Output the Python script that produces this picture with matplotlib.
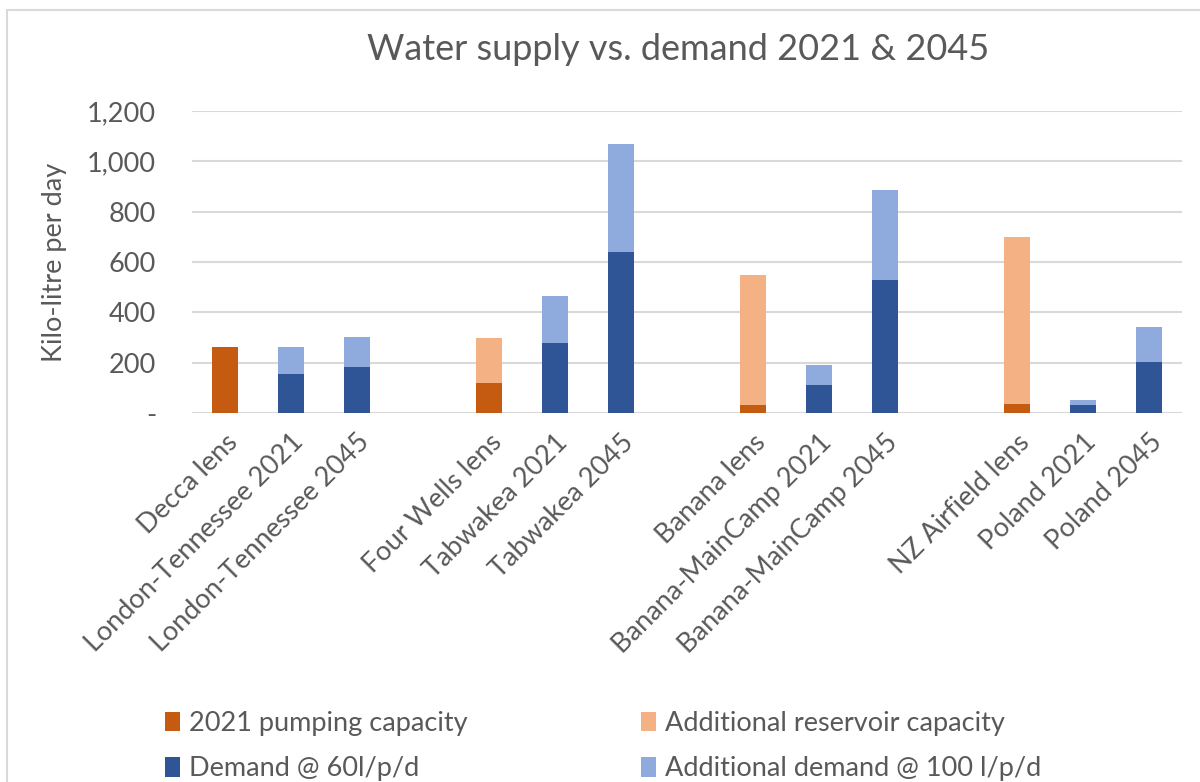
import numpy as np
import matplotlib.pyplot as plt
from matplotlib.patches import Rectangle
from matplotlib.ticker import FuncFormatter

# categories ("" = spacer slot between groups)
CATEGORIES = ["Decca lens", "London-Tennessee 2021", "London-Tennessee 2045", "",
              "Four Wells lens", "Tabwakea 2021", "Tabwakea 2045", "",
              "Banana lens", "Banana-MainCamp 2021", "Banana-MainCamp 2045", "",
              "NZ Airfield lens", "Poland 2021", "Poland 2045"]
PUMPING_2021 = [260, 0, 0, 0, 118, 0, 0, 0, 33, 0, 0, 0, 37, 0, 0]
ADD_RESERVOIR = [0, 0, 0, 0, 180, 0, 0, 0, 517, 0, 0, 0, 663, 0, 0]
DEMAND_60 = [0, 156, 181, 0, 0, 276, 640, 0, 0, 112, 529, 0, 0, 30, 204]
ADD_DEMAND_100 = [0, 106, 121, 0, 0, 187, 429, 0, 0, 78, 356, 0, 0, 23, 137]

C_PUMP, C_RES = "#C55A11", "#F4B183"
C_DEM, C_ADD = "#2F5597", "#8FAADC"
GREY = "#595959"
FONT = "Lato"
FS = 19.5

plt.rcParams.update({"font.family": [FONT, "DejaVu Sans"], "text.color": GREY,
                     "axes.labelcolor": GREY, "xtick.color": GREY, "ytick.color": GREY})

fig = plt.figure(figsize=(12, 7.82), dpi=100)
ax = fig.add_axes([0.16, 0.472, 0.825, 0.386])

x = np.arange(len(CATEGORIES))
w = 0.4
pump = np.array(PUMPING_2021)
dem = np.array(DEMAND_60)
b1 = ax.bar(x, pump, w, color=C_PUMP, label="2021 pumping capacity", zorder=3)
b2 = ax.bar(x, ADD_RESERVOIR, w, bottom=pump, color=C_RES,
            label="Additional reservoir capacity", zorder=3)
b3 = ax.bar(x, dem, w, color=C_DEM, label="Demand @ 60l/p/d", zorder=3)
b4 = ax.bar(x, ADD_DEMAND_100, w, bottom=dem, color=C_ADD,
            label="Additional demand @ 100 l/p/d", zorder=3)

ax.set_xlim(-0.5, len(CATEGORIES) - 0.5)
ax.set_ylim(0, 1200)
ax.set_yticks(np.arange(0, 1201, 200))
ax.yaxis.set_major_formatter(FuncFormatter(lambda v, p: "-" if v == 0 else f"{v:,.0f}"))
ax.grid(axis="y", color="#D9D9D9", lw=1.5, zorder=0)
for s in ax.spines.values():
    s.set_visible(False)
ax.tick_params(axis="both", length=0, labelsize=FS)
ax.tick_params(axis="y", pad=26)

ax.set_xticks(x)
ax.set_xticklabels(CATEGORIES, rotation=45, ha="right", va="top",
                   rotation_mode="anchor")
ax.tick_params(axis="x", pad=12)

ax.set_ylabel("Kilo-litre per day", fontsize=FS, labelpad=14)
fig.text(0.565, 0.937, "Water supply vs. demand 2021 & 2045", ha="center",
         va="center", fontsize=26)

fig.legend(handles=[b1, b3, b2, b4], ncol=2, loc="upper left",
           bbox_to_anchor=(0.117, 0.122), frameon=False, fontsize=FS,
           handlelength=0.55, handleheight=0.75, handletextpad=0.35,
           columnspacing=6.4, labelspacing=0.75, labelcolor=GREY)

# chart-area border (only top/left visible in the reference)
fig.patches.append(Rectangle((7 / 1200, -0.1), 1.2, 1 - 10 / 782 + 0.1,
                             transform=fig.transFigure, fill=False,
                             edgecolor="#D9D9D9", lw=1.5))

fig.savefig("out.png", dpi=100)
